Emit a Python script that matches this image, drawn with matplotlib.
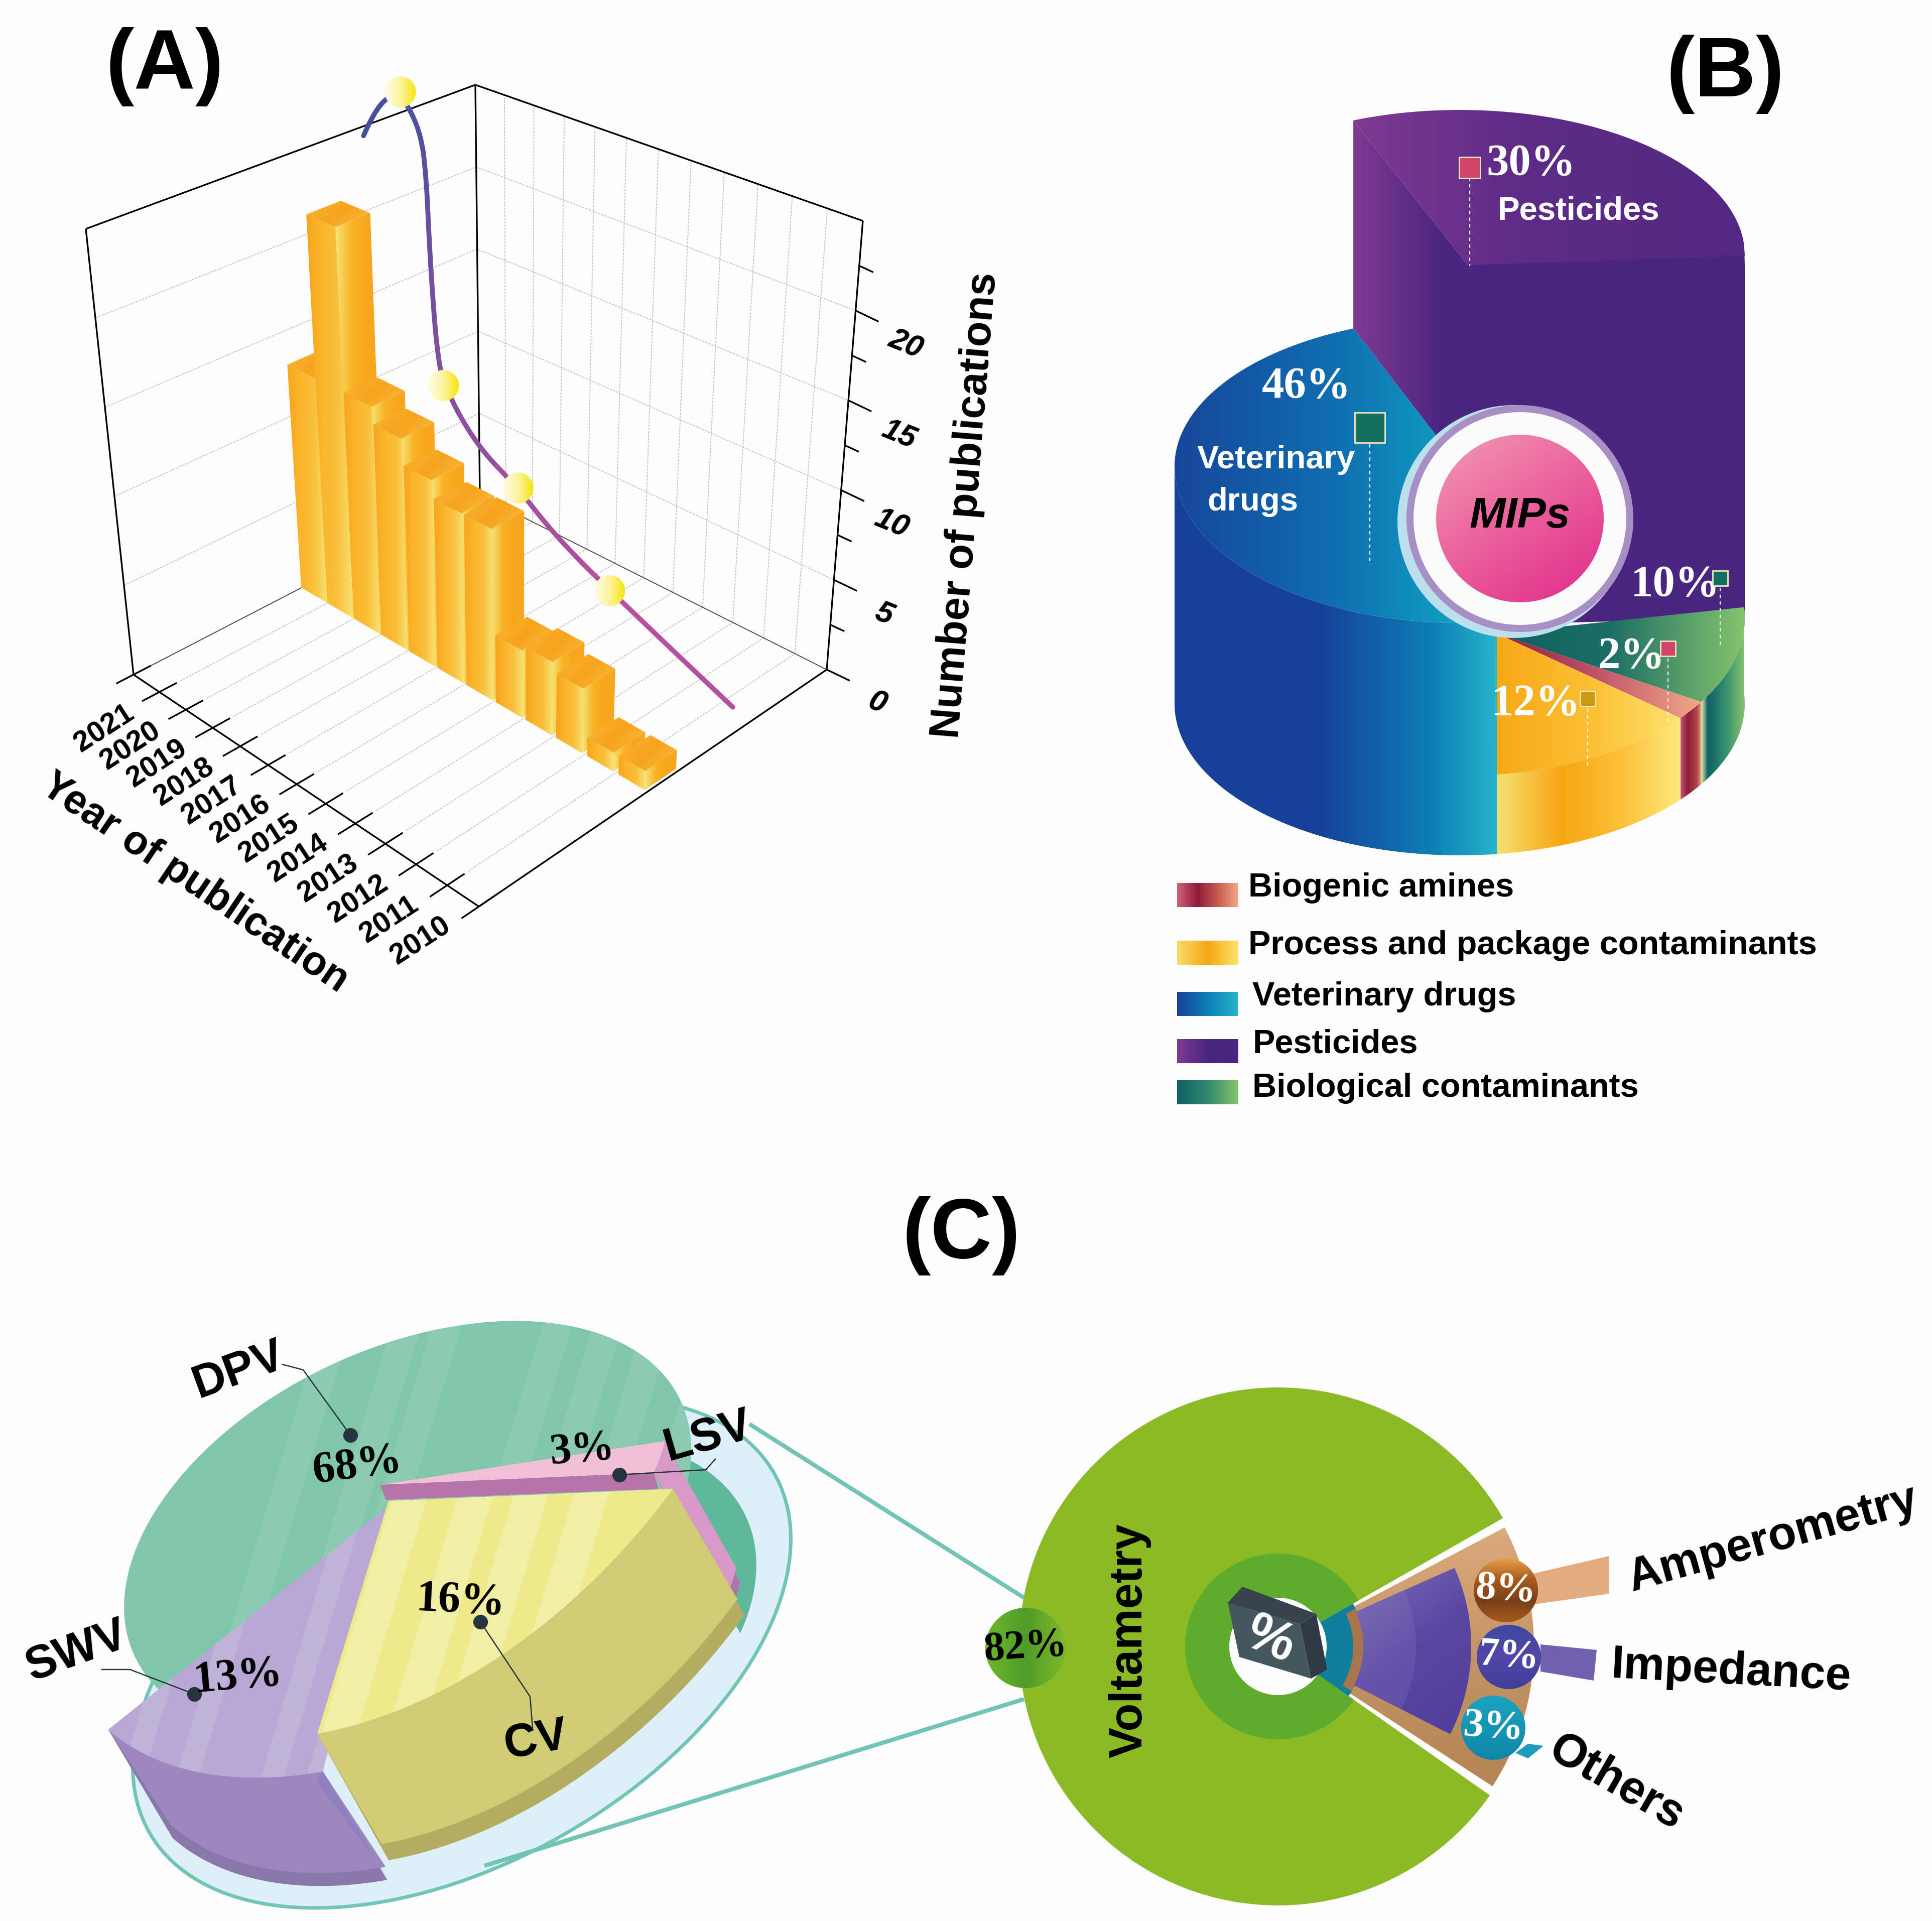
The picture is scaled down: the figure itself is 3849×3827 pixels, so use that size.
import numpy as np
import matplotlib
matplotlib.use('Agg')
import matplotlib.pyplot as plt
from matplotlib.colors import LinearSegmentedColormap
from matplotlib.patches import Polygon, PathPatch
from matplotlib.path import Path

plt.rcParams['font.family'] = ['Liberation Sans', 'DejaVu Sans']

# panel A
years = [2021, 2020, 2019, 2018, 2017, 2016, 2015, 2014, 2013, 2012, 2011, 2010]
pubs = [13, 22.5, 13, 12, 10.5, 9.5, 9.5, 3.7, 4, 3.5, 1, 1]
curve_years = [2022.22, 2021.74, 2021.02, 2020.42, 2020.28, 2020.24, 2020.16, 2020.06, 2019.88, 2018.8, 2017.42, 2016.22, 2014.3, 2010.0]
curve_pubs = [23.4, 25.7, 26.9, 25.0, 22.4, 18.8, 15.1, 12.3, 10.4, 7.8, 6.5, 4.9, 3.3, 0.5]
dot_years = [2021.02, 2019.88, 2017.42, 2014.3]
dot_pubs = [26.9, 10.4, 6.5, 3.3]
y_ticks = [0, 5, 10, 15, 20]

# panel B
b_names = ['Veterinary drugs', 'Pesticides', 'Biological contaminants', 'Biogenic amines', 'Process and package contaminants']
b_pct = [46, 30, 10, 2, 12]
legend_order = ['Biogenic amines', 'Process and package contaminants', 'Veterinary drugs', 'Pesticides', 'Biological contaminants']

# panel C
c_left_names = ['DPV', 'LSV', 'CV', 'SWV']
c_left_pct = [68, 3, 16, 13]
c_right_names = ['Voltametry', 'Amperometry', 'Impedance', 'Others']
c_right_pct = [82, 8, 7, 3]

W, H = 3849, 3827
fig = plt.figure(figsize=(W / 100, H / 100), dpi=100, facecolor='#fdfdfd')
ax = fig.add_axes([0, 0, 1, 1])
ax.set_xlim(0, W)
ax.set_ylim(H, 0)
ax.axis('off')
ax.set_autoscale_on(False)

z = [10]
def nz():
    z[0] += 1
    return z[0]

def grad(pts, stops, angle=0):
    # polygon filled with a linear colour gradient (angle in degrees, screen coords)
    pts = np.asarray(pts, float)
    x0, y0 = pts.min(axis=0)
    x1, y1 = pts.max(axis=0)
    X, Y = np.meshgrid(np.linspace(0, 1, 160), np.linspace(0, 1, 160))
    a = np.radians(angle)
    g = X * np.cos(a) + Y * np.sin(a)
    g = (g - g.min()) / (g.max() - g.min())
    cmap = LinearSegmentedColormap.from_list('g', stops)
    im = ax.imshow(g, extent=[x0, x1, y1, y0], cmap=cmap, aspect='auto', zorder=nz(), interpolation='bilinear', vmin=0, vmax=1)
    im.set_clip_path(Polygon(pts, closed=True, transform=ax.transData))
    return im

def poly(pts, color, **kw):
    p = Polygon(pts, closed=True, facecolor=color, edgecolor=kw.pop('edgecolor', 'none'), zorder=nz(), **kw)
    ax.add_patch(p)
    return p

def line(xs, ys, color='black', lw=2.2, **kw):
    ax.plot(xs, ys, color=color, lw=lw, zorder=nz(), solid_capstyle='butt', **kw)

def txt(x, y, s, size, rot=0, color='black', weight='bold', family=None, style='normal', ha='center'):
    kw = {}
    if family:
        kw['family'] = family
    ax.text(x, y, s, fontsize=size, rotation=rot, color=color, fontweight=weight, style=style,
            ha=ha, va='center', rotation_mode='anchor', zorder=nz(), **kw)

def circle_pts(cx, cy, r, ry=None):
    t = np.linspace(0, 2 * np.pi, 120)
    return np.c_[cx + r * np.cos(t), cy + (ry or r) * np.sin(t)]

SERIF = ['Liberation Serif', 'DejaVu Serif']

# ---------- (A) 3D bars
F00, F10, F01, F11 = map(np.array, [(266, 1344), (954, 1806), (956, 987), (1647, 1334)])
T00, T10, T01, T11 = map(np.array, [(171, 456), (950, 831), (947, 169), (1719, 440)])
zmax = 25.0

def proj(u, v, val):
    base = F00 * (1 - u) * (1 - v) + F10 * u * (1 - v) + F01 * (1 - u) * v + F11 * u * v
    top = T00 * (1 - u) * (1 - v) + T10 * u * (1 - v) + T01 * (1 - u) * v + T11 * u * v
    return base + (top - base) * val / zmax

def warp(u):
    # year spacing grows towards the viewer
    return .89 * u + .11 * u * u

grid_c = '#c4c4c4'
dots = (0, (2.5, 1.2))
n = len(years)
for i in range(n + 1):
    uw = warp(i / n)
    a, b = proj(uw, 0.06, 0), proj(uw, 1, 0)
    line([a[0], b[0]], [a[1], b[1]], grid_c, 1.3, ls=dots)
    a, b = proj(uw, 1, 0), proj(uw, 1, zmax)
    line([a[0], b[0]], [a[1], b[1]], grid_c, 1.3, ls=dots)
for val in y_ticks[1:]:
    a, b, c = proj(0, 0, val), proj(0, 1, val), proj(1, 1, val)
    line([a[0], b[0], c[0]], [a[1], b[1], c[1]], grid_c, 1.3, ls=dots)

for p, q in [(F00, F10), (F10, F11), (F00, T00), (T00, T01), (T01, F01), (T01, T11), (T11, F11)]:
    line([p[0], q[0]], [p[1], q[1]], 'black', 2.4)
for p, q in [(F00, F01), (F01, F11)]:
    line([p[0], q[0]], [p[1], q[1]], '#444444', 1.3)

# year ticks and labels
for i in range(n + 1):
    uw = warp(i / n)
    a, b = proj(uw, -0.05, 0), proj(uw, 0.05, 0)
    line([a[0], b[0]], [a[1], b[1]], 'black', 2.4)
for i, yr in enumerate(years):
    a = proj(warp((i + .5) / n), 0, 0)
    txt(a[0] - 84, a[1] + 90, str(yr), 42, rot=33)

# publication ticks and labels
for val in np.arange(0, 25, 2.5):
    a = proj(1, 1, val)
    major = val % 5 == 0
    d = np.array([46, 22]) if major else np.array([28, 13])
    line([a[0], a[0] + d[0]], [a[1], a[1] + d[1]], 'black', 2.4)
for val in y_ticks:
    a = proj(1, 1, val)
    txt(a[0] + 100, a[1] + 68, str(val), 44, rot=-22, style='italic')

txt(388, 1760, 'Year of publication', 58, rot=-34)
txt(1924, 1007, 'Number of publications', 60, rot=85.4)
txt(328, 133, '(A)', 122)
txt(3437, 148, '(B)', 122)
txt(1915, 2462, '(C)', 122)

# trend curve
cu = (2021.5 - np.array(curve_years)) / 12
cp = np.array([proj(u, 0.77, v) for u, v in zip(cu, curve_pubs)])
c0 = np.array(matplotlib.colors.to_rgb('#3f4f9f'))
c1 = np.array(matplotlib.colors.to_rgb('#d84fa0'))
seg = np.r_[0, np.cumsum(np.hypot(*np.diff(cp, axis=0).T))]
for i in range(1, len(cp) - 1):
    s = cp[i - 1] if i == 1 else (cp[i - 1] + cp[i]) / 2
    e = cp[i + 1] if i == len(cp) - 2 else (cp[i] + cp[i + 1]) / 2
    path = Path([s, cp[i], e], [Path.MOVETO, Path.CURVE3, Path.CURVE3])
    f = seg[i] / seg[-1]
    ax.add_patch(PathPatch(path, fc='none', ec=c0 + (c1 - c0) * f, lw=7, zorder=nz(), capstyle='round'))
for yr, v in zip(dot_years, dot_pubs):
    a = proj((2021.5 - yr) / 12, 0.77, v)
    grad(circle_pts(a[0], a[1], 31), ['#fffde8', '#fdf3a0', '#f5e60f'])

# bars
du, dv = 0.076, 0.09
for i, val in enumerate(pubs):
    u = warp((i + .5) / n)
    v = 0.53
    ua, ub, va, vb = u - du / 2, u + du / 2, v - dv / 2, v + dv / 2
    g1 = [proj(ua, va, 0), proj(ub, va, 0), proj(ub, va, val), proj(ua, va, val)]
    g2 = [proj(ub, va, 0), proj(ub, vb, 0), proj(ub, vb, val), proj(ub, va, val)]
    top = [proj(ua, va, val), proj(ub, va, val), proj(ub, vb, val), proj(ua, vb, val)]
    grad(g1, ['#f8a51c', '#fbb52c', '#f9c03c', '#f6e375'])
    grad(g2, ['#f6e375', '#f9b326', '#f8a51c', '#f7a81f'])
    grad(top, ['#f8b83a', '#f7a31e', '#f9bd40'], angle=30)

# ---------- (B) 3D pie
cx, a_ = 2908, 568
cy_blue, cy_purple, cy_low, cy_bot = 929, 508, 1231, 1402
start = 82.5
ang = [start]
for p in b_pct:
    ang.append(ang[-1] + p * 3.6)

def arc(t0, t1, cy, m=60, b_=302):
    t = np.radians(np.linspace(t0, t1, m))
    return np.c_[cx + a_ * np.cos(t), cy + b_ * np.sin(t)]

def side(t0, t1, cy0, cy1, b0=302):
    return np.vstack([arc(t0, t1, cy0, b_=b0), arc(t1, t0, cy1)])

t_blue0, t_blue1 = ang[0], ang[1]
t_pur1 = ang[2]
t_gr1, t_bio1, t_yel1 = ang[3], ang[4], ang[5]
tip_pur = (2924, 528)
apex_low = (2982, 1262)

# purple block
p_top = arc(t_blue1, t_pur1, cy_purple, b_=289)
front = np.vstack([p_top[0], tip_pur, p_top[-1], [cx + a_, cy_purple + 20], [cx + a_, cy_low], [2982, 1244], [2863, 870], arc(t_blue1, t_blue1, cy_blue, 1, 296)])
grad(front, [(0, '#7e3a90'), (.22, '#4b2681'), (1, '#4a2580')])
grad(np.vstack([p_top, [cx + a_, cy_purple + 2], tip_pur]), [(0, '#7e3a90'), (.4, '#5f2c88'), (1, '#512883')])

# blue block
grad(side(t_blue0, 180, cy_blue, cy_bot, 312), [(0, '#17409a'), (.45, '#17409a'), (.8, '#0c7fb6'), (1, '#27b3ca')])
grad(np.vstack([arc(t_blue0, 180, cy_blue, b_=312), arc(180, t_blue1, cy_blue, b_=296), [2863, 870], [2982, 1000]]),
     [(0, '#16469c'), (.5, '#0f6eb0'), (.8, '#0f96be'), (1, '#1fa6c6')])

# low slices
B_LOW = 315
grad(np.vstack([[apex_low], arc(t_gr1 - 36, t_gr1, cy_low, b_=B_LOW)]), [(0, '#0f5f60'), (.45, '#1c6d66'), (1, '#86c36c')])
grad(side(t_gr1 - 36, t_gr1, cy_low, cy_bot, B_LOW), [(0, '#dfe9a8'), (.15, '#0f6066'), (.6, '#3a9570'), (1, '#86c36c')])
grad(np.vstack([[apex_low], arc(t_gr1, t_bio1, cy_low, 10, B_LOW)]), [(0, '#8f1a3c'), (.5, '#c0566a'), (1, '#f2a888')])
grad(side(t_gr1, t_bio1, cy_low, cy_bot, B_LOW), [(0, '#c6566f'), (.35, '#8e1c3a'), (.8, '#b04a4a'), (1, '#f2a888')])
grad(np.vstack([[apex_low], arc(t_bio1, t_yel1, cy_low, 30, B_LOW), [2982, cy_low + 50]]), [(0, '#f7a816'), (.5, '#fbbf33'), (1, '#fde26c')])
grad(side(t_bio1, t_yel1, cy_low, cy_bot, B_LOW), [(0, '#f5e070'), (.35, '#f7a612'), (.7, '#fbc23c'), (1, '#fdea7e')])

# MIPs badge
mx, my = 3028, 1033
poly(circle_pts(mx - 12, my + 6, 232), '#bcdfee')
poly(circle_pts(mx, my, 226), '#a78fc4')
poly(circle_pts(mx, my, 212), '#fbfbfb')
grad(circle_pts(mx, my, 167), ['#f39ab4', '#ea5f9c', '#df2a8a'], angle=55)
txt(mx, my - 4, 'MIPs', 62, style='italic')

# pie labels
def marker(x, y, s, color, edge='#f3e7c0'):
    poly([(x - s, y - s), (x + s, y - s), (x + s, y + s), (x - s, y + s)], color, edgecolor=edge, lw=2)

pct_txt = dict(zip(b_names, b_pct))
lab = {'Pesticides': (3050, 326), 'Veterinary drugs': (2603, 770), 'Biological contaminants': (3338, 1165),
       'Biogenic amines': (3250, 1308), 'Process and package contaminants': (3060, 1402)}
for name, (x, y) in lab.items():
    txt(x, y, f'{pct_txt[name]}%', 64, color='white', family=SERIF)
txt(3145, 420, 'Pesticides', 47, color='white')
txt(2385, 916, 'Veterinary', 47, color='white', ha='left')
txt(2405, 1000, 'drugs', 47, color='white', ha='left')
for (x, y0, y1, s, c) in [(2928, 340, 530, 21, '#d2446a'), (2729, 858, 1125, 30, '#12705f'), (3427, 1158, 1290, 15, '#127063'),
                          (3323, 1298, 1445, 15, '#d2446a'), (3163, 1398, 1525, 15, '#cb9a16')]:
    line([x, x], [y0, y1], '#eef3f3', 1.6, ls=(0, (3, 3)))
    marker(x, y0 - 6, s, c)

legend_stops = {'Biogenic amines': ['#d0607a', '#8e1c3a', '#c85a50', '#f2a888'],
                'Process and package contaminants': ['#f9dc6a', '#f7a612', '#fde26c'],
                'Veterinary drugs': ['#17409a', '#0c7fb6', '#27b3ca'],
                'Pesticides': ['#7e3a90', '#4a2580', '#4a2580'],
                'Biological contaminants': ['#0f6066', '#2f8a6d', '#86c36c']}
leg_y = [1769, 1884, 1986, 2080, 2168]
leg_x = [2487, 2487, 2495, 2495, 2495]
for name, y, x in zip(legend_order, leg_y, leg_x):
    yc = y + 14 if name != 'Biological contaminants' else y + 8
    grad([(2345, yc - 24), (2467, yc - 24), (2467, yc + 24), (2345, yc + 24)], legend_stops[name])
    txt(x, y, name, 48, ha='left')

# ---------- (C) left, tilted pie
def tilted(c, e1, e2, p0, p1, m=60):
    t = np.radians(np.linspace(p0, p1, m))
    return np.array(c) + np.outer(np.cos(t), e1) + np.outer(np.sin(t), e2)

th = np.radians(30)
e_a, e_b = 718 * np.array([np.cos(th), -np.sin(th)]), 415 * np.array([np.sin(th), np.cos(th)])
poly(tilted((920, 3293), e_a, e_b, 0, 360, 150), '#dfeffa', edgecolor='#72c4b6', lw=5)
line([1493, 2040], [2837, 3183], '#72c4b6', 6)
line([965, 2040], [3717, 3385], '#72c4b6', 6)

def stripes(face, xs, w, color='white', alpha=.13):
    clip = Polygon(face, closed=True, transform=ax.transData)
    y0, y1 = np.min(face[:, 1]), np.max(face[:, 1])
    lean = 0.3 * (y1 - y0)
    for x in xs:
        s = Polygon([(x, y1), (x + w, y1), (x + w + lean, y0), (x + lean, y0)], closed=True, fc=color, ec='none', alpha=alpha, zorder=nz())
        ax.add_patch(s)
        s.set_clip_path(clip)

pct_l = dict(zip(c_left_names, c_left_pct))
off = np.array([142, 252])

# DPV
dc, d1, d2 = np.array((812, 3045)), np.array((544, -254)), np.array((152, 326))
d0 = 165
dend = d0 + pct_l['DPV'] * 3.6
d_side = tilted(dc, d1, d2, -60, 35)
poly(np.vstack([d_side + (130, 230), d_side[::-1]]), '#5fb89a')
d_top = np.vstack([[dc], tilted(dc, d1, d2, d0, dend, 120)])
poly(d_top, '#7fc6ab')
stripes(d_top, [420, 560, 640, 860, 960, 1060, 1180], 60, alpha=.09)

# LSV
la, l1, l2 = np.array((757, 2958)), np.array((545, -24)), np.array((-171, 339))
l_arc = tilted(la, l1, l2, -pct_l['LSV'] * 3.6, 0, 12)
poly(np.vstack([l_arc + off + (8, 30), l_arc[::-1]]), '#ad78a8')
poly(np.vstack([l_arc + off, l_arc[::-1]]), '#d79ac8')
poly(np.vstack([[la], l_arc]), '#f2bfd9')
poly(np.vstack([[la], l_arc[-1], l_arc[-1] + (10, 32), la + (12, 30)]), '#b873ab')

# SWV
sa, s1, s2 = np.array((774, 3000)), np.array((473, 187)), np.array((-455, 508))
s0 = pct_l['CV'] * 3.6
s_arc = tilted(sa, s1, s2, s0, s0 + pct_l['SWV'] * 3.6, 40)
soff = np.array((125, 190))
poly(np.vstack([s_arc + soff + (3, 26), s_arc[::-1]]), '#8a78ab')
poly(np.vstack([s_arc + soff, s_arc[::-1]]), '#9c87bf')
poly([s_arc[0], s_arc[0] + soff + (5, 26), s_arc[0] + soff + (-10, 0), s_arc[0] + (-12, 20)], '#8f80c0')
s_top = np.vstack([[sa], s_arc])
poly(s_top, '#b9a8d4')
stripes(s_top, [240, 350, 520, 610], 45, alpha=.12)

# CV, arc drawn round a virtual centre so it bulges as in the picture
ca = np.array((774, 2990))
cc, c1_, c2_ = np.array((818, 2644)), np.array((523, 322)), np.array((-552, 755))
c_arc = tilted(cc, c1_, c2_, 0, pct_l['CV'] * 3.6, 50)
poly(np.vstack([c_arc + off, c_arc[::-1]]), '#b3ad62')
poly(np.vstack([c_arc + off + (-14, -32), c_arc[::-1]]), '#cfcc75')
c_top = np.vstack([[ca], c_arc])
poly(c_top, '#eeea8c')
stripes(c_top, [640, 770, 880, 1000], 70, alpha=.22)

dot_c = '#25343f'
def leader(xs, ys):
    line(xs, ys, dot_c, 1.8)
    ax.plot(xs[0], ys[0], 'o', ms=20, color=dot_c, zorder=nz())

leader([698, 604, 562], [2859, 2729, 2718])
leader([1234, 1406, 1426], [2938, 2928, 2906])
leader([957, 1056, 1061], [3231, 3380, 3442])
leader([387, 259, 202], [3375, 3326, 3326])
txt(476, 2730, 'DPV', 66, rot=20)
txt(1411, 2862, 'LSV', 66, rot=16)
txt(1068, 3468, 'CV', 66, rot=10)
txt(153, 3291, 'SWV', 66, rot=20)
txt(712, 2920, '68%', 64, rot=8, family=SERIF)
txt(1160, 2890, '3%', 62, rot=5, family=SERIF)
txt(918, 3190, '16%', 64, rot=-3, family=SERIF)
txt(474, 3340, '13%', 64, rot=5, family=SERIF)

# ---------- (C) right, donut
gx, gy, gr = 2546, 3280, 516

def sector(r0, r1, a0, a1, c=(gx, gy), m=120):
    t = np.radians(np.linspace(a0, a1, m))
    outer = np.c_[c[0] + r1 * np.cos(t), c[1] - r1 * np.sin(t)]
    inner = np.c_[c[0] + r0 * np.cos(t[::-1]), c[1] - r0 * np.sin(t[::-1])]
    return np.vstack([outer, inner])

pct_r = dict(zip(c_right_names, c_right_pct))
a_st = 29.7
a_end = a_st + pct_r['Voltametry'] * 3.6
poly(sector(60, gr, a_st, a_end), '#8abb26')
poly(sector(97, 185, a_st, a_end), '#5fab2d')
poly(circle_pts(gx, gy, 97), '#fdfdfd')

rest0, rest1 = a_end - 360 + 2, a_st - 2
grad(sector(150, 510, rest0, rest1), ['#dba97c', '#c59466', '#b58453'], angle=90)
poly(sector(97, 172, a_end - 360, a_st), '#0e7f9c')
poly(sector(150, 172, rest0 + 2, rest1 - 2), '#a8764a')
grad(sector(170, 385, -27, 24), ['#7e6cb8', '#5a46a2', '#4e3f9c'], angle=60)
p_in = poly(sector(170, 275, -27, 24), '#8f80c4', alpha=.22)

# flags then badges
poly([(3050, 3136), (3206, 3100), (3206, 3175), (3050, 3197)], '#e2ac80')
poly([(3069, 3276), (3181, 3287), (3175, 3348), (3069, 3330)], '#7060b0')
poly([(3044, 3474), (3075, 3478), (3044, 3503), (3019, 3492)], '#1e9cbc')
badge = [(3000, 3168, ['#e8a04c', '#a85a1c', '#7a3f18', '#a85a1c'], 'Amperometry'),
         (3006, 3301, ['#3d49a0', '#5148a6', '#3d3f98'], 'Impedance'),
         (2975, 3442, ['#1aa3c0', '#1595b4', '#0f86a8'], 'Others')]
for x, y, st, name in badge:
    grad(circle_pts(x, y, 64), st, angle=90)
    txt(x, y, f'{pct_r[name]}%', 58, rot=-4, color='white', family=SERIF)

# central tilted box
poly([(2446, 3193), (2590, 3236), (2612, 3344), (2469, 3301)], '#46565f')
poly([(2590, 3236), (2622, 3215), (2644, 3326), (2612, 3344)], '#2f3a42')
poly([(2475, 3161), (2622, 3215), (2590, 3236), (2446, 3193)], '#38444c')
txt(2530, 3268, '%', 78, rot=-22, color='white')

grad(circle_pts(2043, 3283, 80), ['#6fb82a', '#4f9c2a', '#7db828'])
txt(2043, 3283, '82%', 60, rot=4, family=SERIF)
txt(2250, 3268, 'Voltametry', 66, rot=90)
txt(3532, 3066, 'Amperometry', 66, rot=15.6)
txt(3449, 3331, 'Impedance', 66, rot=-3)
txt(3220, 3552, 'Others', 66, rot=-30)

fig.savefig('out.png', dpi=100, facecolor=fig.get_facecolor())
